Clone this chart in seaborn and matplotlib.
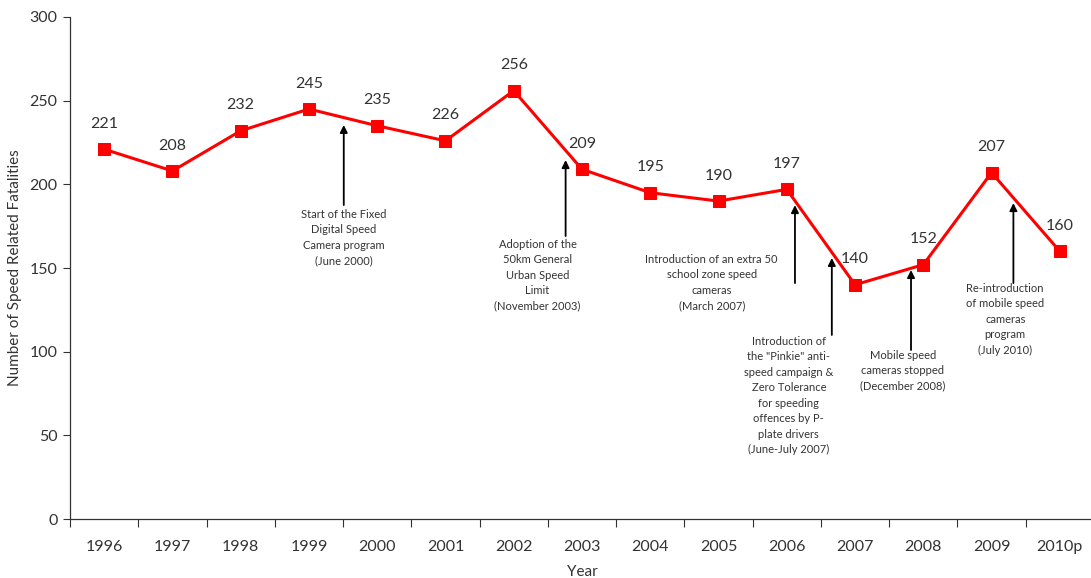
import numpy as np
import pandas as pd
import matplotlib
matplotlib.use("Agg")
import matplotlib.pyplot as plt
import seaborn as sns

years = ["1996", "1997", "1998", "1999", "2000", "2001", "2002", "2003",
         "2004", "2005", "2006", "2007", "2008", "2009", "2010p"]
fatalities = [221, 208, 232, 245, 235, 226, 256, 209, 195, 190, 197, 140, 152, 207, 160]

ann_texts = [
    "Start of the Fixed\nDigital Speed\nCamera program\n(June 2000)",
    "Adoption of the\n50km General\nUrban Speed\nLimit\n(November 2003)",
    "Introduction of an extra 50\nschool zone speed\ncameras\n(March 2007)",
    "Introduction of\nthe \"Pinkie\" anti-\nspeed campaign &\nZero Tolerance\nfor speeding\noffences by P-\nplate drivers\n(June-July 2007)",
    "Mobile speed\ncameras stopped\n(December 2008)",
    "Re-introduction\nof mobile speed\ncameras\nprogram\n(July 2010)",
]
# arrow x, arrow head y, arrow tail y, text x, text top y
ann_arrow_x = [3.51, 6.76, 10.12, 10.66, 11.82, 13.32]
ann_head_y = [235.5, 214.5, 187.6, 156.0, 148.8, 188.8]
ann_tail_y = [187.6, 169.1, 141.0, 110.0, 101.0, 141.0]
ann_text_x = [3.51, 6.35, 8.9, 10.03, 11.7, 13.2]
ann_text_y = [185.5, 167.5, 158.5, 109.5, 101.2, 141.2]

sns.set_theme(style="white")
plt.rcParams["font.family"] = ["Lato", "DejaVu Sans"]

df = pd.DataFrame({"Year": years, "Fatalities": fatalities})

fig = plt.figure(figsize=(10.91, 5.78), dpi=100)
ax = fig.add_axes([0.0642, 0.102, 0.9385, 0.8686])

sns.lineplot(data=df, x="Year", y="Fatalities", sort=False, ax=ax,
             color="#FF0000", linewidth=2.2, marker="s", markersize=8,
             markeredgecolor="#FF0000", markerfacecolor="#FF0000")

txtc = "#333333"
for i, v in enumerate(fatalities):
    ax.text(i, v + 11, str(v), ha="center", va="bottom", fontsize=11.5, color=txtc)

for t, ax_x, hy, ty, tx, tty in zip(ann_texts, ann_arrow_x, ann_head_y, ann_tail_y,
                                    ann_text_x, ann_text_y):
    ax.annotate("", xy=(ax_x, hy), xytext=(ax_x, ty),
                arrowprops=dict(arrowstyle="-|>", color="black", lw=1.3,
                                mutation_scale=11, shrinkA=0, shrinkB=0))
    ax.text(tx, tty, t, ha="center", va="top", fontsize=8.0, color=txtc,
            linespacing=1.5)

ax.set_xlim(-0.5, 14.5)
ax.set_ylim(0, 300)
ax.set_yticks(np.arange(0, 301, 50))
ax.set_xticks(np.arange(-0.5, 15, 1), minor=True)
ax.tick_params(axis="x", which="major", length=0, pad=15, labelsize=11.5, labelcolor=txtc)
ax.tick_params(axis="x", which="minor", length=6, width=0.8, color="#333333", direction="out", bottom=True)
ax.tick_params(axis="y", which="major", length=5, width=0.8, color="#333333", direction="out",
               left=True, labelsize=11.5, labelcolor=txtc, pad=4)

for s in ["top", "right"]:
    ax.spines[s].set_visible(False)
for s in ["left", "bottom"]:
    ax.spines[s].set_color("#333333")
    ax.spines[s].set_linewidth(0.9)

ax.set_xlabel("Year", fontsize=11, color=txtc, labelpad=8)
ax.set_ylabel("Number of Speed Related Fatalities", fontsize=11, color=txtc, labelpad=5)

fig.savefig("out.png", dpi=100)
